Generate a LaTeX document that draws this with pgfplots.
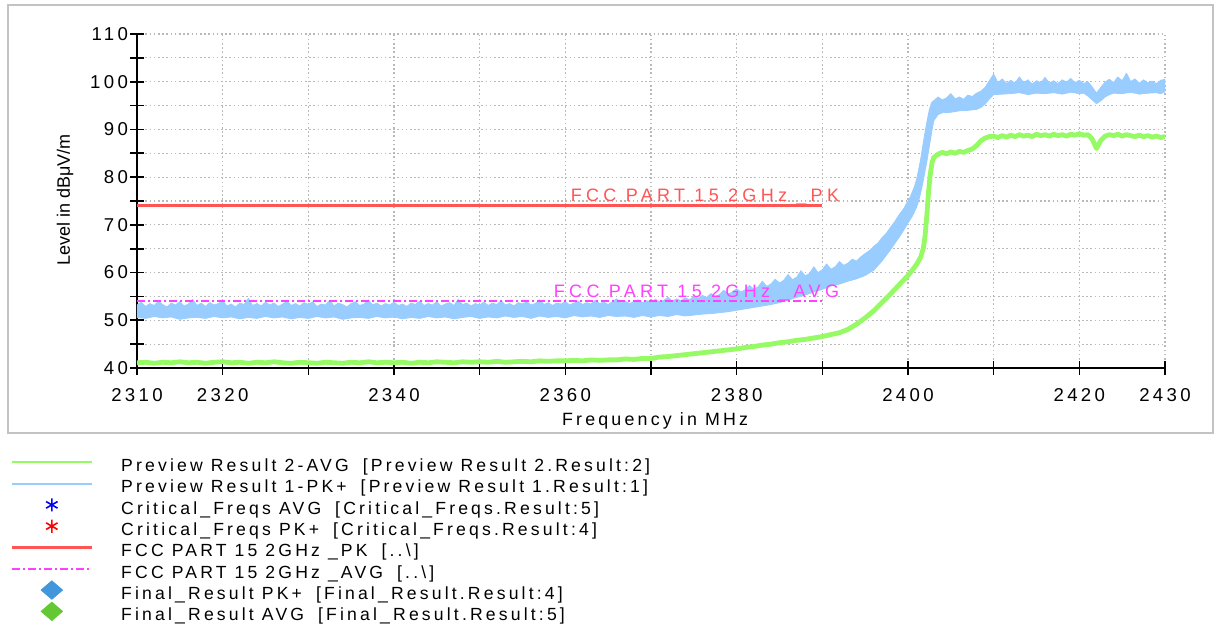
\documentclass[border=0pt]{standalone}
\usepackage{fontspec}
\setmainfont{Liberation Sans}[LetterSpace=18]
\newfontfamily\plainfont{Liberation Sans}
\newfontfamily\widefont{Liberation Sans}[LetterSpace=24]
\usepackage{pgfplots}
\pgfplotsset{compat=1.18}
\definecolor{traceblue}{RGB}{153,204,255}
\definecolor{tracegreen}{RGB}{150,250,100}
\definecolor{limred}{RGB}{255,85,85}
\definecolor{limmag}{RGB}{255,64,255}
\definecolor{diablue}{RGB}{65,150,220}
\definecolor{diagreen}{RGB}{100,200,50}
\definecolor{framegray}{RGB}{195,195,195}
\pgfplotsset{
  lineleg/.style={legend image code/.code={\draw[##1] (0pt,2.5pt) -- (40pt,2.5pt);}},
  markleg/.style={legend image code/.code={\path (0pt,2.5pt) (40pt,2.5pt);
     \begin{pgfinterruptboundingbox}\draw[##1] plot coordinates {(20pt,2.5pt)};\end{pgfinterruptboundingbox}}},
}
\begin{document}
\begin{tikzpicture}
\useasboundingbox (0,0) rectangle (610.5pt,311.5pt);
\fill[white] (0,0) rectangle (610.5pt,311.5pt);
\draw[framegray, line width=1.2pt] (4pt,95pt) rectangle (606.5pt,309pt);
\begin{axis}[
  at={(68.5pt,127.5pt)}, anchor=south west,
  scale only axis, width=514pt, height=167pt,
  xmin=2310, xmax=2430, ymin=40, ymax=110,
  axis x line=bottom, axis y line=left,
  axis line style={-, black, line width=0.9pt},
  xtick={2310,2320,...,2430},
  xticklabels={2310,2320,,2340,,2360,,2380,,2400,,2420,2430},
  ytick={40,50,...,110},
  minor ytick={45,55,...,105},
  grid=both,
  major grid style={gray!55, line width=0.6pt, dash pattern=on 0.8pt off 1.3pt},
  minor grid style={gray!55, line width=0.6pt, dash pattern=on 0.8pt off 1.3pt},
  tick align=center,
  major tick length=7pt, minor tick length=7pt,
  tick style={black, line width=0.8pt},
  /pgf/number format/assume math mode=true,
  /pgf/number format/1000 sep={},
  tick label style={font=\fontsize{9.3}{11}\selectfont},
  xticklabel style={yshift=-3pt},
  yticklabel style={xshift=2.5pt},
  xlabel={Frequency in MHz}, ylabel={Level in dBμV/m},
  every axis x label/.style={at={(axis description cs:0.504,-0.158)}, anchor=center, font=\fontsize{8.9}{10}\selectfont},
  every axis y label/.style={at={(axis description cs:-0.070,0.503)}, anchor=center, rotate=90, font=\plainfont\fontsize{9}{11}\selectfont},
  lineleg,
  legend cell align=left,
  legend style={at={(axis description cs:-0.1235,-0.2705)}, anchor=north west,
    draw=none, fill=none, inner sep=0pt, row sep=2.15pt,
    font=\fontsize{8.8}{10}\selectfont,
    nodes={inner sep=0pt, text height=6.4pt, text depth=2.1pt},
    /tikz/every odd column/.append style={column sep=14pt}},
]
% Preview Result 1-PK+ (noise band: upper envelope then lower envelope)
\addplot[forget plot, fill=traceblue, draw=traceblue, line width=0.4pt, line join=round] coordinates {
(2310,53.2) (2310.5,53.8) (2311,52.9) (2311.5,53.5) (2312,53.1) (2312.5,54.0) (2313,53.3) (2313.5,52.8) (2314,53.6) (2314.5,53.2)
(2315,53.9) (2315.5,53.0) (2316,53.4) (2316.5,54.4) (2317,53.1) (2317.5,53.6) (2318,52.9) (2318.5,53.7) (2319,53.2) (2319.5,53.5)
(2320,54.1) (2320.5,53.0) (2321,53.4) (2321.5,52.8) (2322,53.6) (2322.5,53.3) (2323,54.6) (2323.5,53.1) (2324,53.5) (2324.5,53.0)
(2325,53.8) (2325.5,53.2) (2326,53.6) (2326.5,52.9) (2327,53.4) (2327.5,54.0) (2328,53.1) (2328.5,53.5) (2329,53.0) (2329.5,53.7)
(2330,53.3) (2330.5,53.9) (2331,52.9) (2331.5,53.4) (2332,53.2) (2332.5,54.2) (2333,53.0) (2333.5,53.6) (2334,53.3) (2334.5,52.8)
(2335,53.5) (2335.5,53.9) (2336,53.1) (2336.5,53.4) (2337,54.3) (2337.5,53.2) (2338,53.6) (2338.5,53.0) (2339,53.5) (2339.5,53.2)
(2340,53.8) (2340.5,53.1) (2341,53.4) (2341.5,52.9) (2342,53.6) (2342.5,53.3) (2343,54.0) (2343.5,53.1) (2344,53.5) (2344.5,53.2)
(2345,53.9) (2345.5,53.0) (2346,53.4) (2346.5,53.7) (2347,53.1) (2347.5,54.4) (2348,53.3) (2348.5,53.6) (2349,53.0) (2349.5,53.5)
(2350,53.2) (2350.5,53.8) (2351,53.1) (2351.5,53.6) (2352,53.3) (2352.5,54.1) (2353,53.2) (2353.5,53.5) (2354,53.0) (2354.5,53.7)
(2355,53.4) (2355.5,53.9) (2356,53.2) (2356.5,53.5) (2357,54.3) (2357.5,53.3) (2358,53.7) (2358.5,53.1) (2359,53.6) (2359.5,53.4)
(2360,53.9) (2360.5,53.2) (2361,53.6) (2361.5,54.0) (2362,53.3) (2362.5,53.7) (2363,53.4) (2363.5,54.2) (2364,53.5) (2364.5,53.8)
(2365,53.3) (2365.5,53.9) (2366,54.5) (2366.5,53.6) (2367,54.0) (2367.5,53.5) (2368,53.9) (2368.5,54.3) (2369,53.7) (2369.5,54.1)
(2370,53.8) (2370.5,54.4) (2371,53.9) (2371.5,54.2) (2372,54.8) (2372.5,54.0) (2373,54.5) (2373.5,54.1) (2374,54.7) (2374.5,54.3)
(2375,55.0) (2375.5,54.6) (2376,55.2) (2376.5,54.8) (2377,55.6) (2377.5,55.0) (2378,55.4) (2378.5,56.3) (2379,55.5) (2379.5,55.9)
(2380,56.6) (2380.5,55.9) (2381,56.4) (2381.5,57.3) (2382,56.5) (2382.5,57.0) (2383,58.2) (2383.5,57.1) (2384,57.6) (2384.5,58.6)
(2385,57.8) (2385.5,58.4) (2386,59.6) (2386.5,58.5) (2387,59.0) (2387.5,60.4) (2388,59.3) (2388.5,59.8) (2389,61.2) (2389.5,60.0)
(2390,60.6) (2390.5,61.8) (2391,60.7) (2391.5,61.2) (2392,62.3) (2392.5,61.5) (2393,62.0) (2393.5,62.8) (2394,62.4) (2394.5,63.3)
(2395,64.0) (2395.5,64.6) (2396,65.5) (2396.5,66.2) (2397,67.4) (2397.5,68.3) (2398,69.6) (2398.5,70.8) (2399,72.2) (2399.5,73.4)
(2400,75.0) (2400.25,75.8) (2400.5,76.9) (2400.75,78.0) (2401,79.5) (2401.25,81.6) (2401.5,84.0) (2401.75,86.8) (2402,89.5) (2402.25,92.0)
(2402.5,94.2) (2402.75,95.6) (2403,96.0) (2403.5,96.8) (2404,96.2) (2404.5,96.6) (2405,97.5) (2405.5,96.4) (2406,96.8) (2406.5,96.3)
(2407,97.2) (2407.5,96.9) (2408,97.6) (2408.5,98.0) (2409,98.8) (2409.5,100.2) (2410,101.6) (2410.5,99.8) (2411,100.6) (2411.5,99.6)
(2412,100.3) (2412.5,99.7) (2413,101.0) (2413.5,99.8) (2414,100.4) (2414.5,99.5) (2415,100.2) (2415.5,99.8) (2416,100.9) (2416.5,99.7)
(2417,100.2) (2417.5,99.6) (2418,100.4) (2418.5,99.9) (2419,100.7) (2419.5,99.8) (2420,100.3) (2420.5,99.6) (2421,100.0) (2421.5,98.9)
(2422,97.6) (2422.5,98.8) (2423,99.9) (2423.5,100.5) (2424,99.8) (2424.5,101.0) (2425,100.2) (2425.5,101.8) (2426,100.0) (2426.5,100.6)
(2427,99.7) (2427.5,100.4) (2428,99.8) (2428.5,100.1) (2429,99.6) (2429.5,100.3) (2430,100.5)
(2430,97.9) (2429.5,97.5) (2429,97.7) (2428,97.6) (2427,97.4) (2426,97.8) (2425,97.5) (2424,97.6) (2423.5,97.3) (2423,96.8)
(2422.5,96.0) (2422,95.4) (2421.5,96.2) (2421,97.0) (2420.5,97.6) (2420,97.5) (2419,97.8) (2418,97.4) (2417,97.7) (2416,97.5)
(2415,97.6) (2414,97.3) (2413,97.7) (2412,97.5) (2411,97.4) (2410,97.3) (2409.5,96.4) (2409,95.3) (2408.5,94.6) (2408,94.2)
(2407,94.0) (2406,93.9) (2405,93.6) (2404,93.5) (2403.5,93.1) (2403,91.8) (2402.75,89.3) (2402.5,86.6) (2402.25,83.8) (2402,81.4)
(2401.75,79.0) (2401.5,76.9) (2401.25,75.1) (2401,73.7) (2400.5,71.8) (2400,70.4) (2399.5,68.9) (2399,67.5) (2398.5,66.2) (2398,64.9)
(2397.5,63.7) (2397,62.5) (2396.5,61.5) (2396,60.5) (2395,59.4) (2394,58.7) (2393,58.2) (2392,57.6) (2391,57.2) (2390,56.5)
(2389,55.9) (2388,55.3) (2387,54.8) (2386,54.2) (2385,53.7) (2384,53.3) (2383,53.0) (2382,52.7) (2381,52.4) (2380,52.1)
(2379,51.8) (2378,51.6) (2377,51.4) (2376,51.3) (2375,51.1) (2374,50.9) (2373,51.2) (2372,50.8) (2371,51.0) (2370,50.7)
(2369,51.0) (2368,50.6) (2367,50.9) (2366,50.8) (2365,51.0) (2364,50.6) (2363,50.9) (2362,50.7) (2361,51.0) (2360,50.5)
(2359,50.8) (2358,50.6) (2357,50.9) (2356,50.4) (2355,50.8) (2354,50.6) (2353,50.9) (2352,50.5) (2351,50.7) (2350,50.4)
(2349,50.8) (2348,50.6) (2347,50.3) (2346,50.7) (2345,50.5) (2344,50.8) (2343,50.4) (2342,50.6) (2341,50.3) (2340,50.7)
(2339,50.5) (2338,50.8) (2337,50.4) (2336,50.6) (2335,50.5) (2334,50.2) (2333,50.7) (2332,50.5) (2331,50.8) (2330,50.4)
(2329,50.6) (2328,50.3) (2327,50.7) (2326,50.5) (2325,50.8) (2324,50.4) (2323,50.6) (2322,50.3) (2321,50.7) (2320,50.5)
(2319,50.8) (2318,50.4) (2317,50.6) (2316,50.5) (2315,50.2) (2314,50.7) (2313,50.5) (2312,50.8) (2311,50.4) (2310,50.6)
};
% Preview Result 2-AVG
\addplot[forget plot, tracegreen, line width=2.4pt, line join=round] coordinates {
(2310,41.1) (2311,41.2) (2312,41.0) (2313,41.2) (2314,41.1) (2315,41.3) (2316,41.1) (2317,41.2) (2318,41.0) (2319,41.2)
(2320,41.3) (2321,41.1) (2322,41.2) (2323,41.0) (2324,41.2) (2325,41.1) (2326,41.3) (2327,41.1) (2328,41.0) (2329,41.2)
(2330,41.1) (2331,41.0) (2332,41.2) (2333,41.1) (2334,41.0) (2335,41.2) (2336,41.1) (2337,41.3) (2338,41.1) (2339,41.2)
(2340,41.1) (2341,41.2) (2342,41.0) (2343,41.2) (2344,41.1) (2345,41.3) (2346,41.2) (2347,41.1) (2348,41.3) (2349,41.2)
(2350,41.3) (2351,41.2) (2352,41.4) (2353,41.2) (2354,41.3) (2355,41.4) (2356,41.3) (2357,41.5) (2358,41.4) (2359,41.5)
(2360,41.5) (2361,41.6) (2362,41.5) (2363,41.7) (2364,41.6) (2365,41.7) (2366,41.7) (2367,41.9) (2368,41.8) (2369,42.0)
(2370,42.0) (2371,42.3) (2372,42.4) (2373,42.6) (2374,42.8) (2375,43.0) (2376,43.2) (2377,43.4) (2378,43.6) (2379,43.8)
(2380,44.0) (2381,44.3) (2382,44.5) (2383,44.8) (2384,45.0) (2385,45.3) (2386,45.5) (2387,45.8) (2388,46.0) (2389,46.3)
(2390,46.6) (2391,47.0) (2392,47.4) (2393,48.1) (2394,49.2) (2395,50.5) (2396,52.0) (2397,53.8) (2398,55.6) (2399,57.5)
(2400,59.4) (2400.5,60.5) (2401,61.7) (2401.5,63.3) (2401.8,65.2) (2402,67.8) (2402.2,72.0) (2402.4,77.0) (2402.6,80.6) (2402.8,83.0)
(2403,84.1) (2403.5,84.8) (2404,85.2) (2404.5,84.9) (2405,85.3) (2405.5,85.0) (2406,85.4) (2406.5,85.2) (2407,85.6) (2407.5,85.9)
(2408,86.6) (2408.5,87.6) (2409,88.2) (2409.5,88.5) (2410,88.6) (2410.5,88.3) (2411,88.7) (2411.5,88.4) (2412,88.8) (2412.5,88.5)
(2413,88.9) (2413.5,88.6) (2414,88.8) (2414.5,88.5) (2415,89.0) (2415.5,88.7) (2416,88.9) (2416.5,88.6) (2417,89.0) (2417.5,88.7)
(2418,88.9) (2418.5,88.6) (2419,89.0) (2419.5,88.8) (2420,89.1) (2420.5,88.8) (2421,88.9) (2421.5,88.0) (2422,86.0) (2422.5,87.7)
(2423,88.6) (2423.5,88.9) (2424,88.7) (2424.5,89.0) (2425,88.6) (2425.5,88.9) (2426,88.7) (2426.5,88.5) (2427,88.8) (2427.5,88.5)
(2428,88.7) (2428.5,88.4) (2429,88.6) (2429.5,88.3) (2430,88.5)
};
% limit lines
\addplot[forget plot, limred, line width=1.4pt] coordinates {(2310,74) (2390,74)};
\addplot[forget plot, limmag, line width=0.8pt, dash pattern=on 4pt off 1.5pt on 1pt off 1.5pt] coordinates {(2310,54) (2390,54)};
\node[limred, anchor=base east, inner sep=0pt, font=\widefont\fontsize{9}{10}\selectfont] at (axis cs:2392.0,74.8) {FCC PART 15 2GHz \_PK};
\node[limmag, anchor=base east, inner sep=0pt, font=\widefont\fontsize{9}{10}\selectfont] at (axis cs:2392.0,54.8) {FCC PART 15 2GHz \_AVG};
% legend
\addlegendimage{tracegreen, line width=1pt}
\addlegendentry{Preview Result 2-AVG\hspace{7pt}[Preview Result 2.Result:2]}
\addlegendimage{traceblue, line width=1pt}
\addlegendentry{Preview Result 1-PK+\hspace{7pt}[Preview Result 1.Result:1]}
\addlegendimage{only marks, mark=asterisk, mark size=3.3pt, mark options={line width=0.8pt}, blue, markleg}
\addlegendentry{Critical\_Freqs AVG\hspace{7pt}[Critical\_Freqs.Result:5]}
\addlegendimage{only marks, mark=asterisk, mark size=3.3pt, mark options={line width=0.8pt}, red, markleg}
\addlegendentry{Critical\_Freqs PK+\hspace{7pt}[Critical\_Freqs.Result:4]}
\addlegendimage{limred, line width=1.4pt}
\addlegendentry{FCC PART 15 2GHz \_PK\hspace{7pt}[..\textbackslash]}
\addlegendimage{limmag, line width=1pt, dash pattern=on 4pt off 1.5pt on 1pt off 1.5pt}
\addlegendentry{FCC PART 15 2GHz \_AVG\hspace{7pt}[..\textbackslash]}
\addlegendimage{only marks, mark=diamond*, mark size=4.6pt, mark options={xscale=1.55, fill=diablue, draw=diablue}, markleg}
\addlegendentry{Final\_Result PK+\hspace{7pt}[Final\_Result.Result:4]}
\addlegendimage{only marks, mark=diamond*, mark size=4.6pt, mark options={xscale=1.55, fill=diagreen, draw=diagreen}, markleg}
\addlegendentry{Final\_Result AVG\hspace{7pt}[Final\_Result.Result:5]}
\end{axis}
\end{tikzpicture}
\end{document}
